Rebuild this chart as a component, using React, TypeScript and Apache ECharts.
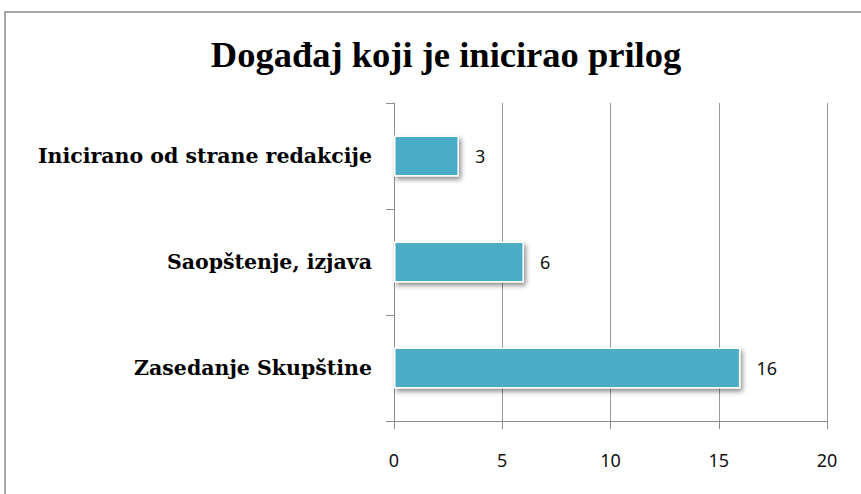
import React, { useEffect, useRef } from "react";
import * as echarts from "echarts";

const titleText = "Događaj koji je inicirao prilog";
const categories = ["Zasedanje Skupštine", "Saopštenje, izjava", "Inicirano od strane redakcije"];
const values = [16, 6, 3];
const xMin = 0;
const xMax = 20;
const xInterval = 5;

export default function App() {
  const ref = useRef<HTMLDivElement>(null);
  useEffect(() => {
    if (!ref.current) return;
    const chart = echarts.init(ref.current, null, { renderer: "svg" });
    chart.setOption({
      animation: false,
      backgroundColor: "#ffffff",
      title: {
        text: titleText,
        top: 31,
        left: 441,
        textAlign: "center",
        textStyle: {
          fontFamily: "Liberation Serif",
          fontWeight: "bold",
          fontSize: 36.5,
          color: "#000",
        },
      },
      graphic: [
        {
          type: "rect",
          shape: { x: 5, y: 12, width: 900, height: 600 },
          style: { fill: "none", stroke: "#8a8a8a", lineWidth: 1.5 },
          silent: true,
        },
      ],
      grid: { left: 394, right: 34, top: 103, bottom: 73 },
      xAxis: {
        type: "value",
        min: xMin,
        max: xMax,
        interval: xInterval,
        axisLine: { show: true, lineStyle: { color: "#8c8c8c", width: 1 } },
        axisTick: { show: true, length: 8, lineStyle: { color: "#8c8c8c" } },
        splitLine: { show: true, lineStyle: { color: "#9a9a9a", width: 1 } },
        axisLabel: {
          margin: 30,
          fontFamily: "Noto Sans",
          fontSize: 18,
          color: "#111",
        },
      },
      yAxis: {
        type: "category",
        data: categories,
        axisLine: { show: true, lineStyle: { color: "#8c8c8c", width: 1 } },
        axisTick: { show: true, length: 8, lineStyle: { color: "#8c8c8c" } },
        axisLabel: {
          margin: 22,
          fontFamily: "DejaVu Serif",
          fontWeight: "bold",
          fontSize: 20.5,
          color: "#000",
        },
      },
      series: [
        {
          type: "bar",
          data: values,
          barWidth: 41,
          itemStyle: {
            color: "#4bacc6",
            borderColor: "#ffffff",
            borderWidth: 1.5,
            shadowColor: "rgba(0,0,0,0.45)",
            shadowBlur: 5,
            shadowOffsetX: 2,
            shadowOffsetY: 3,
          },
          label: {
            show: true,
            position: "right",
            distance: 16,
            fontFamily: "Noto Sans",
            fontSize: 18,
            color: "#111",
          },
        },
      ],
    });
    return () => chart.dispose();
  }, []);
  return (
    <div
      ref={ref}
      style={{ position: "absolute", left: 0, top: 0, width: 861, height: 494 }}
    />
  );
}
